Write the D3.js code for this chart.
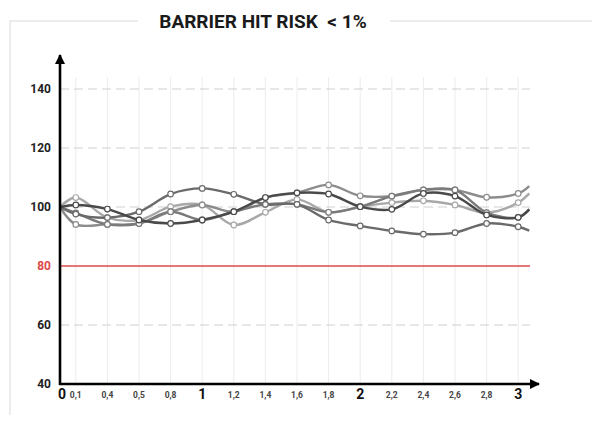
<!DOCTYPE html>
<html>
<head>
<meta charset="utf-8">
<script src="https://cdn.jsdelivr.net/npm/d3@7"></script>
<style>
  body { margin: 0; background: #fff; }
  svg { display: block; font-family: Roboto, "Liberation Sans", sans-serif; }
</style>
</head>
<body>
<div class="chart"></div>
<script>
var title = "BARRIER HIT RISK  < 1%";

// x categories (first point "0" sits on the y axis)
var xLabels = ["0,1", "0,4", "0,5", "0,8", "1", "1,2", "1,4", "1,6", "1,8", "2", "2,2", "2,4", "2,6", "2,8", "3"];
var majorLabels = ["1", "2", "3"];
var yTicks = [40, 60, 80, 100, 120, 140];
var dashedTicks = [60, 100, 120, 140];
var barrier = 80;

// each series: start value, one value per category, trailing value
var s1 = [100, 97.6, 96.4, 98.4, 104.4, 106.3, 104.3, 100.9, 100.9, 95.6, 93.6, 91.9, 90.8, 91.3, 94.4, 93.3, 92.0];
var s2 = [100, 100.7, 99.3, 95.6, 94.4, 95.6, 98.4, 103.2, 104.8, 104.4, 100.1, 99.2, 104.6, 103.7, 97.3, 96.5, 99.2];
var s3 = [100, 94.1, 94.1, 94.4, 98.4, 100.7, 98.4, 103.2, 104.8, 107.5, 103.8, 103.7, 105.8, 105.8, 103.3, 104.6, 107.1];
var s4 = [100, 103.2, 96.4, 95.6, 100.1, 100.7, 93.9, 98.2, 102.6, 98.2, 100.1, 101.5, 102.1, 100.7, 98.1, 101.5, 104.6];
var s5 = [100, 98.0, 94.1, 94.4, 98.4, 95.6, 98.4, 100.9, 100.9, 98.2, 100.1, 103.7, 105.8, 105.8, 98.1, 96.5, 99.2];

var seriesList = [s4, s3, s5, s1, s2];
var seriesColors = ["#a8a8a8", "#8c8c8c", "#7a7a7a", "#6a6a6a", "#4a4a4a"];

var W = 592, H = 427;
var x0 = 60, x1 = 534;
var yBottom = 384, yTop = 89;

var svg = d3.select(".chart").append("svg")
  .attr("width", W)
  .attr("height", H);

/**
 * Scales
 */
var xScale = d3.scaleBand()
  .domain(xLabels)
  .range([x0, x1]);
var bw = xScale.bandwidth();

var yScale = d3.scaleLinear()
  .domain([40, 140])
  .range([yBottom, yTop]);

function xAt(i, n) {
  if (i === 0) return x0;
  if (i === n - 1) return xScale(xLabels[xLabels.length - 1]) + bw * 0.85;
  return xScale(xLabels[i - 1]) + bw / 2;
}

/**
 * Frame and title
 */
var frame = svg.append("g")
  .attr("fill", "none")
  .attr("stroke", "#e6e6e6")
  .attr("stroke-width", 1.5);
frame.append("path").attr("d", "M138,21H10V415");
frame.append("path").attr("d", "M390,21H592");

svg.append("text")
  .attr("x", 263)
  .attr("y", 28)
  .attr("text-anchor", "middle")
  .attr("font-size", 19)
  .attr("font-weight", "bold")
  .attr("fill", "#1a1a1a")
  .style("white-space", "pre")
  .text(title);

/**
 * Grid
 */
svg.append("g")
  .selectAll("line")
  .data(xLabels)
  .enter()
  .append("line")
  .attr("x1", function(d) { return xScale(d) + bw / 2; })
  .attr("x2", function(d) { return xScale(d) + bw / 2; })
  .attr("y1", yScale(144))
  .attr("y2", yBottom)
  .attr("stroke", "#ececec")
  .attr("stroke-width", 1);

svg.append("g")
  .selectAll("line")
  .data(dashedTicks)
  .enter()
  .append("line")
  .attr("x1", x0)
  .attr("x2", 530)
  .attr("y1", function(d) { return yScale(d); })
  .attr("y2", function(d) { return yScale(d); })
  .attr("stroke", "#cfcfcf")
  .attr("stroke-width", 1.2)
  .attr("stroke-dasharray", "9,5");

svg.append("line")
  .attr("x1", x0)
  .attr("x2", 530)
  .attr("y1", yScale(barrier))
  .attr("y2", yScale(barrier))
  .attr("stroke", "#e04848")
  .attr("stroke-width", 1.6);

/**
 * Y labels
 */
svg.append("g")
  .selectAll("text")
  .data(yTicks)
  .enter()
  .append("text")
  .attr("x", 51)
  .attr("y", function(d) { return yScale(d) + 4; })
  .attr("text-anchor", "end")
  .attr("font-size", 12)
  .attr("font-weight", "bold")
  .attr("fill", function(d) { return d === barrier ? "#e04848" : "#222"; })
  .text(function(d) { return d; });

/**
 * X labels
 */
svg.append("text")
  .attr("x", 62)
  .attr("y", 399)
  .attr("text-anchor", "middle")
  .attr("font-size", 14)
  .attr("font-weight", "bold")
  .attr("fill", "#111")
  .text("0");

svg.append("g")
  .selectAll("text")
  .data(xLabels)
  .enter()
  .append("text")
  .attr("x", function(d) { return xScale(d) + bw / 2; })
  .attr("y", function(d) { return majorLabels.indexOf(d) >= 0 ? 399 : 398; })
  .attr("text-anchor", "middle")
  .attr("font-size", function(d) { return majorLabels.indexOf(d) >= 0 ? 14 : 8.5; })
  .attr("font-weight", "bold")
  .attr("fill", function(d) { return majorLabels.indexOf(d) >= 0 ? "#111" : "#444"; })
  .text(function(d) { return d; });

/**
 * Series
 */
var line = d3.line()
  .x(function(d, i, arr) { return xAt(i, arr.length); })
  .y(function(d) { return yScale(d); })
  .curve(d3.curveCatmullRom.alpha(0.5));

var groups = svg.selectAll("g.series")
  .data(seriesList)
  .enter()
  .append("g")
  .attr("class", "series");

groups.append("path")
  .attr("d", function(d) { return line(d); })
  .attr("fill", "none")
  .attr("stroke", function(d, i) { return seriesColors[i]; })
  .attr("stroke-width", 2.4);

groups.each(function(s, k) {
  d3.select(this).selectAll("circle")
    .data(s.slice(1, s.length - 1))
    .enter()
    .append("circle")
    .attr("cx", function(d, i) { return xAt(i + 1, s.length); })
    .attr("cy", function(d) { return yScale(d); })
    .attr("r", 2.8)
    .attr("fill", "#fff")
    .attr("stroke", seriesColors[k])
    .attr("stroke-width", 1.2);
});

/**
 * Axes with arrows
 */
var defs = svg.append("defs");
defs.append("marker")
  .attr("id", "arrow")
  .attr("viewBox", "0 0 10 10")
  .attr("refX", 9)
  .attr("refY", 5)
  .attr("markerWidth", 4)
  .attr("markerHeight", 4)
  .attr("orient", "auto")
  .append("path")
  .attr("d", "M0,0L10,5L0,10z")
  .attr("fill", "#000");

svg.append("line")
  .attr("x1", x0)
  .attr("x2", x0)
  .attr("y1", yBottom + 1)
  .attr("y2", 55)
  .attr("stroke", "#000")
  .attr("stroke-width", 2.6)
  .attr("marker-end", "url(#arrow)");

svg.append("line")
  .attr("x1", x0 - 1)
  .attr("x2", 539)
  .attr("y1", yBottom)
  .attr("y2", yBottom)
  .attr("stroke", "#000")
  .attr("stroke-width", 2.6)
  .attr("marker-end", "url(#arrow)");
</script>
</body>
</html>
